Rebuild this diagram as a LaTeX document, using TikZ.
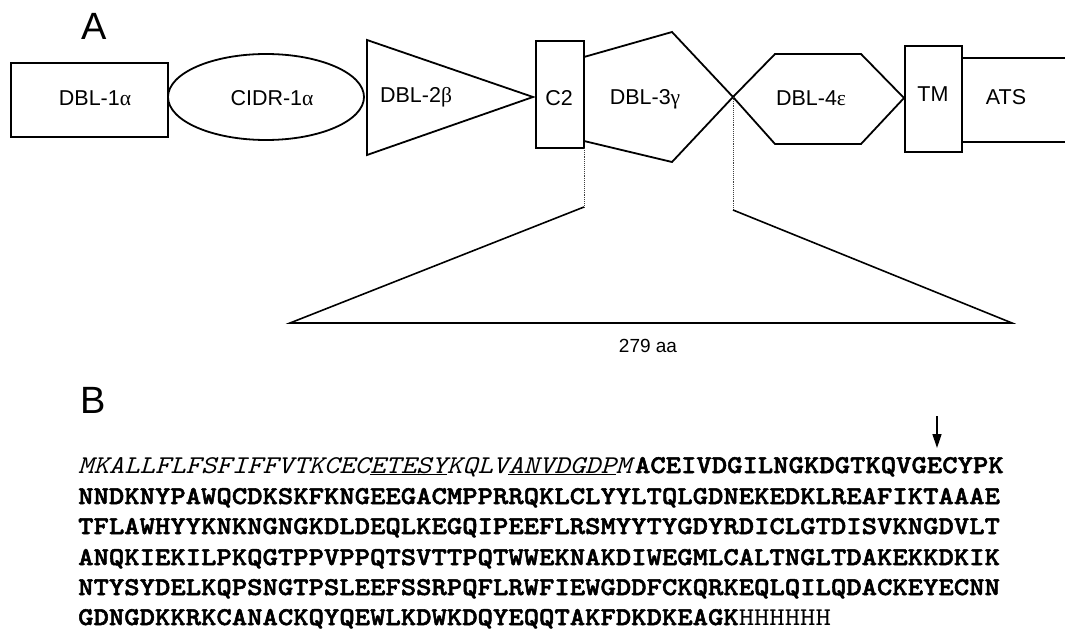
\documentclass[tikz,border=0pt]{standalone}
\usepackage{fontspec}
\setmainfont{Liberation Sans}
\newfontfamily\grk{Liberation Serif}
\newfontfamily\seqfont{lmmono10-regular.otf}[ItalicFont=lmmono10-italic.otf, BoldFont=lmmonolt10-bold.otf, FakeStretch=1.143, BoldFeatures={FakeBold=2}]
\usetikzlibrary{arrows.meta}
\begin{document}
\begin{tikzpicture}[x=1pt,y=-1pt,
  dom/.style={draw=black,line width=1.8pt,line join=miter},
  lab/.style={font=\fontsize{21.5}{21.5}\selectfont, inner sep=0pt},
  panel/.style={font=\fontsize{38}{38}\selectfont, inner sep=0pt},
  seq/.style={font=\seqfont\fontsize{25.6}{25.6}\selectfont, anchor=base west, inner sep=0pt},
  guide/.style={draw=black!75,line width=0.9pt,densely dotted},
  zoomline/.style={draw=black,line width=1.6pt}]
\useasboundingbox (0,0) rectangle (1065,631);

% panel labels
\node[panel] (pA) at (94,26) {A};
\node[panel] (pB) at (93,400) {B};

% domains
\draw[dom] (11,63) rectangle (168,137);
\draw[dom] (266,97) ellipse [x radius=98, y radius=43];
\draw[dom] (367,40) -- (367,155) -- (533,97) -- cycle;
\draw[dom] (536,41) rectangle (584,148);
\draw[dom] (584,57) -- (672,32) -- (733,97) -- (672,162) -- (584,141);
\draw[dom] (733,97) -- (775,54) -- (861,54) -- (904,98) -- (861,144) -- (775,144) -- cycle;
\draw[dom] (905,46) rectangle (962,152);
\draw[dom] (962,58) -- (1066,58);
\draw[dom] (962,142) -- (1066,142);

\node[lab] (d1) at (95,98) {DBL-1{\grk α}};
\node[lab] (c1) at (272,98) {CIDR-1{\grk α}};
\node[lab] (d2) at (416,97) {DBL-2{\grk β}};
\node[lab] (c2) at (559,98) {C2};
\node[lab] (d3) at (645,99) {DBL-3{\grk γ}};
\node[lab] (d4) at (811,98) {DBL-4{\grk ε}};
\node[lab] (tm) at (933,94) {TM};
\node[lab] (ats) at (1006,97) {ATS};

% expansion
\coordinate (c2b) at (584,148);
\coordinate (lk) at (584,207);
\coordinate (x3) at (733,97);
\coordinate (rk) at (733,210);
\coordinate (bl) at (290,323);
\coordinate (br) at (1012,323);
\draw[guide] (c2b) -- (lk);
\draw[guide] (x3) -- (rk);
\draw[zoomline] (lk) -- (bl) -- (br) -- (rk);
\node[font=\fontsize{19}{19}\selectfont, inner sep=0pt] (len) at (648,346) {279 aa};

% sequence
\node[seq] (s1) at (78,473) {\textit{MKALLFLFSFIFFVTKCEC\underline{ETESY}KQLV\underline{ANVDGDP}M}\textbf{ACEIVDGILNGKDGTKQVGECYPK}};
\node[seq] (s2) at (78,504) {\textbf{NNDKNYPAWQCDKSKFKNGEEGACMPPRRQKLCLYYLTQLGDNEKEDKLREAFIKTAAAE}};
\node[seq] (s3) at (78,534) {\textbf{TFLAWHYYKNKNGNGKDLDEQLKEGQIPEEFLRSMYYTYGDYRDICLGTDISVKNGDVLT}};
\node[seq] (s4) at (78,565) {\textbf{ANQKIEKILPKQGTPPVPPQTSVTTPQTWWEKNAKDIWEGMLCALTNGLTDAKEKKDKIK}};
\node[seq] (s5) at (78,595) {\textbf{NTYSYDELKQPSNGTPSLEEFSSRPQFLRWFIEWGDDFCKQRKEQLQILQDACKEYECNN}};
\node[seq] (s6) at (78,625) {\textbf{GDNGDKKRKCANACKQYQEWLKDWKDQYEQQTAKFDKDKEAGK}HHHHHH};

\coordinate (at) at (937,416);
\coordinate (ah) at (937,448);
\draw[line width=1.5pt,-{Triangle[length=14pt,width=9pt]}] (at) -- (ah);
\end{tikzpicture}
\end{document}
